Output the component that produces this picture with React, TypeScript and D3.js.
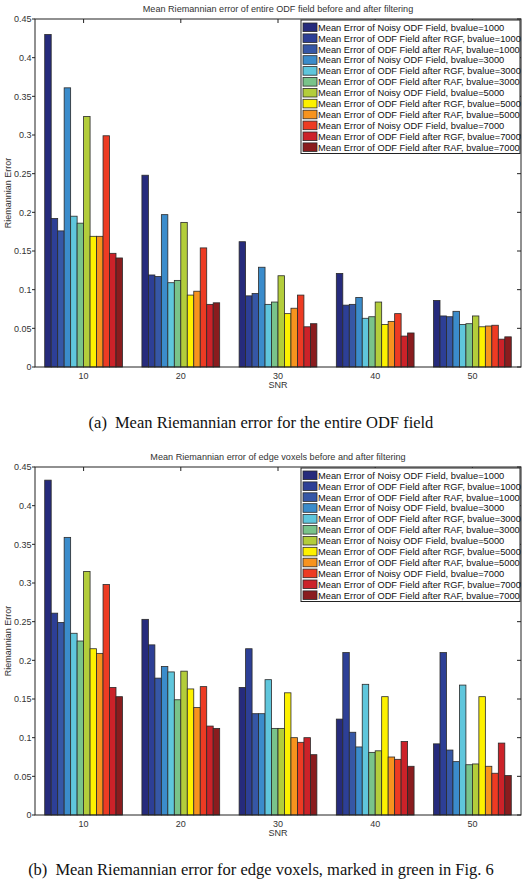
import React from "react";
import * as d3 from "d3";

const snrLabels = ["10", "20", "30", "40", "50"];

const seriesNames = [
  "Mean Error of Noisy ODF Field, bvalue=1000",
  "Mean Error of ODF Field after RGF, bvalue=1000",
  "Mean Error of ODF Field after RAF, bvalue=1000",
  "Mean Error of Noisy ODF Field, bvalue=3000",
  "Mean Error of ODF Field after RGF, bvalue=3000",
  "Mean Error of ODF Field after RAF, bvalue=3000",
  "Mean Error of Noisy ODF Field, bvalue=5000",
  "Mean Error of ODF Field after RGF, bvalue=5000",
  "Mean Error of ODF Field after RAF, bvalue=5000",
  "Mean Error of Noisy ODF Field, bvalue=7000",
  "Mean Error of ODF Field after RGF, bvalue=7000",
  "Mean Error of ODF Field after RAF, bvalue=7000",
];

const seriesColors = [
  "#262b7c", "#2d3f96", "#3657a6", "#3b8ccb", "#5fc6dc", "#79c38a",
  "#b3cd3b", "#fdf100", "#f7931e", "#ed3b23", "#cc2229", "#8a1c1e",
];

// Chart (a): entire ODF field, one array per SNR group (12 series each)
const entireSnr10 = [0.430, 0.192, 0.176, 0.361, 0.195, 0.186, 0.324, 0.169, 0.169, 0.299, 0.147, 0.141];
const entireSnr20 = [0.248, 0.119, 0.117, 0.197, 0.109, 0.112, 0.187, 0.093, 0.098, 0.154, 0.081, 0.083];
const entireSnr30 = [0.162, 0.092, 0.095, 0.129, 0.081, 0.084, 0.118, 0.069, 0.076, 0.093, 0.052, 0.056];
const entireSnr40 = [0.121, 0.080, 0.081, 0.090, 0.063, 0.065, 0.084, 0.055, 0.059, 0.069, 0.040, 0.044];
const entireSnr50 = [0.086, 0.066, 0.065, 0.072, 0.055, 0.056, 0.066, 0.052, 0.053, 0.054, 0.036, 0.039];

// Chart (b): edge voxels
const edgeSnr10 = [0.433, 0.261, 0.249, 0.359, 0.235, 0.225, 0.315, 0.215, 0.209, 0.298, 0.165, 0.153];
const edgeSnr20 = [0.253, 0.220, 0.177, 0.192, 0.185, 0.149, 0.186, 0.163, 0.139, 0.166, 0.115, 0.112];
const edgeSnr30 = [0.165, 0.215, 0.131, 0.131, 0.175, 0.112, 0.112, 0.158, 0.100, 0.094, 0.100, 0.078];
const edgeSnr40 = [0.124, 0.210, 0.107, 0.088, 0.169, 0.081, 0.083, 0.153, 0.075, 0.072, 0.095, 0.063];
const edgeSnr50 = [0.092, 0.210, 0.084, 0.069, 0.168, 0.065, 0.066, 0.153, 0.063, 0.054, 0.093, 0.051];

const yTickValues = [0, 0.05, 0.1, 0.15, 0.2, 0.25, 0.3, 0.35, 0.4, 0.45];
const yTickLabels = ["0", "0.05", "0.1", "0.15", "0.2", "0.25", "0.3", "0.35", "0.4", "0.45"];

const SANS = "'Liberation Sans', Arial, Helvetica, sans-serif";
const SERIF = "'Liberation Serif', 'Times New Roman', serif";
const AX = "#222";
const TXT = "#333";

type ChartProps = {
  top: number;
  bottom: number;
  title: string;
  groups: number[][];
};

function BarChart({ top, bottom, title, groups }: ChartProps) {
  const left = 35;
  const right = 521;
  const x = d3.scaleLinear().domain([0.5, 5.5]).range([left, right]);
  const y = d3.scaleLinear().domain([0, 0.45]).range([bottom, top]);
  const groupW = x(1.8) - x(1);
  const inner = d3
    .scaleBand<number>()
    .domain(d3.range(seriesNames.length))
    .range([-groupW / 2, groupW / 2])
    .paddingInner(0);

  const legX = 301;
  const legW = 219;
  const legTop = top + 1;
  const rowH = 10.9;
  const legH = 133.5;

  return (
    <g>
      <text x={(left + right) / 2} y={top - 7.5} textAnchor="middle" fontFamily={SANS} fontSize={9.1} fill={TXT}>
        {title}
      </text>
      <rect x={left} y={top} width={right - left} height={bottom - top} fill="#fff" />
      {groups.map((vals, gi) =>
        vals.map((v, si) => (
          <rect
            key={`b${gi}-${si}`}
            x={x(gi + 1) + (inner(si) as number)}
            y={y(v)}
            width={inner.bandwidth()}
            height={y(0) - y(v)}
            fill={seriesColors[si]}
            stroke="#2a2a2a"
            strokeWidth={0.8}
          />
        ))
      )}
      <rect x={left} y={top} width={right - left} height={bottom - top} fill="none" stroke={AX} strokeWidth={1} />
      {yTickValues.map((t, i) => (
        <g key={`yt${i}`}>
          <line x1={left - 3} x2={left} y1={y(t)} y2={y(t)} stroke={AX} strokeWidth={1} />
          <line x1={right - 4} x2={right} y1={y(t)} y2={y(t)} stroke={AX} strokeWidth={1} />
          <text x={left - 3.5} y={y(t) + 3.2} textAnchor="end" fontFamily={SANS} fontSize={9} fill={TXT}>
            {yTickLabels[i]}
          </text>
        </g>
      ))}
      {snrLabels.map((s, i) => (
        <g key={`xt${i}`}>
          <line x1={x(i + 1)} x2={x(i + 1)} y1={top} y2={top + 4} stroke={AX} strokeWidth={1} />
          <text x={x(i + 1)} y={bottom + 11.5} textAnchor="middle" fontFamily={SANS} fontSize={9} fill={TXT}>
            {s}
          </text>
        </g>
      ))}
      <text x={x(3)} y={bottom + 20.5} textAnchor="middle" fontFamily={SANS} fontSize={9} fill={TXT}>
        SNR
      </text>
      <text
        transform={`translate(${10.5},${(top + bottom) / 2}) rotate(-90)`}
        textAnchor="middle"
        fontFamily={SANS}
        fontSize={9}
        fill={TXT}
      >
        Riemannian Error
      </text>
      <rect x={legX} y={legTop} width={legW} height={legH} fill="#fff" stroke={AX} strokeWidth={1} />
      {seriesNames.map((n, i) => {
        const cy = top + 8.3 + i * rowH;
        return (
          <g key={`lg${i}`}>
            <rect x={legX + 2} y={cy - 4.3} width={14} height={8.6} fill={seriesColors[i]} stroke="#2a2a2a" strokeWidth={0.8} />
            <text x={legX + 17} y={cy + 3.4} fontFamily={SANS} fontSize={9.3} fill="#111">
              {n}
            </text>
          </g>
        );
      })}
    </g>
  );
}

export default function App() {
  const entire = [entireSnr10, entireSnr20, entireSnr30, entireSnr40, entireSnr50];
  const edge = [edgeSnr10, edgeSnr20, edgeSnr30, edgeSnr40, edgeSnr50];
  return (
    <svg
      width={527}
      height={882}
      viewBox="0 0 527 882"
      style={{ position: "absolute", left: 0, top: 0, background: "#fff" }}
    >
      <rect x={0} y={0} width={527} height={882} fill="#fff" />
      <BarChart top={19} bottom={367} title="Mean Riemannian error of entire ODF field before and after filtering" groups={entire} />
      <text x={261} y={427.5} textAnchor="middle" fontFamily={SERIF} fontSize={16.5} fill="#111">
        <tspan>(a)</tspan>
        <tspan dx={8}>Mean Riemannian error for the entire ODF field</tspan>
      </text>
      <BarChart top={467} bottom={815} title="Mean Riemannian error of edge voxels before and after filtering" groups={edge} />
      <text x={261} y={874.5} textAnchor="middle" fontFamily={SERIF} fontSize={16.5} fill="#111">
        <tspan>(b)</tspan>
        <tspan dx={8}>Mean Riemannian error for edge voxels, marked in green in Fig. 6</tspan>
      </text>
    </svg>
  );
}
